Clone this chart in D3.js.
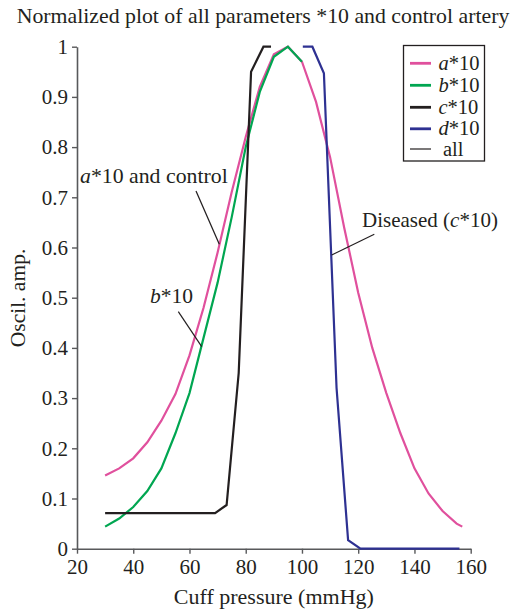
<!DOCTYPE html>
<html><head><meta charset="utf-8">
<script src="https://cdn.jsdelivr.net/npm/d3@7"></script>
<style>
body{margin:0;background:#fff}
svg{display:block}
text,tspan{font-family:"Liberation Serif","Times New Roman",serif;fill:#231f20}
</style>
</head><body>
<svg id="c" width="516" height="612"></svg>
<script>
// ---- data ----
const pressureA = [30,35,40,45,50,55,60,65,70,75,80,85,90,95,100,105,110,115,120,125,130,135,140,145,150,155,157];
const valuesA   = [0.146,0.160,0.180,0.212,0.255,0.308,0.385,0.48,0.59,0.71,0.82,0.92,0.985,1.0,0.97,0.89,0.78,0.64,0.51,0.40,0.31,0.23,0.16,0.11,0.075,0.05,0.044];
const pressureB = [30,35,40,45,50,55,60,65,70,75,80,85,90,95,100];
const valuesB   = [0.044,0.06,0.083,0.115,0.16,0.23,0.31,0.42,0.53,0.66,0.80,0.91,0.98,1.0,0.97];
const pressureC = [30,69.1,73.2,77.5,81.9,86.3,89];
const valuesC   = [0.071,0.071,0.087,0.35,0.95,1.0,1.0];
const pressureD = [100.3,103.7,107.8,112.3,116.4,120.8,156];
const valuesD   = [1.0,1.0,0.947,0.32,0.017,0.0,0.0];

const seriesNames  = ["a","b","c","d"];
const seriesColors = ["#e0509d","#00a651","#231f20","#2e3192"];
const xTicks = [20,40,60,80,100,120,140,160];
const yTicks = [0,0.1,0.2,0.3,0.4,0.5,0.6,0.7,0.8,0.9,1];
const yTickLabels = ["0","0.1","0.2","0.3","0.4","0.5","0.6","0.7","0.8","0.9","1"];

const titleText = "Normalized plot of all parameters *10 and control artery";
const xLabel = "Cuff pressure (mmHg)";
const yLabel = "Oscil. amp.";

// ---- drawing ----
const FF = '"Liberation Serif","Times New Roman",serif';
const svg = d3.select("#c").attr("font-family",FF);
const x = d3.scaleLinear().domain([20,160]).range([77,470.7]);
const y = d3.scaleLinear().domain([0,1]).range([548.7,46.7]);
const axisColor = "#58595b";

svg.append("text").attr("x",263).attr("y",23).attr("text-anchor","middle")
  .attr("font-family",FF).style("font-size","21.8px").text(titleText);

const gx = svg.append("g").attr("transform",`translate(0,${y(0)})`)
  .call(d3.axisBottom(x).tickValues(xTicks).tickSize(5).tickSizeOuter(0).tickPadding(5));
const gy = svg.append("g").attr("transform",`translate(${x(20)},0)`)
  .call(d3.axisLeft(y).tickValues(yTicks).tickFormat((d,i)=>yTickLabels[i]).tickSize(5).tickSizeOuter(0).tickPadding(4));
[gx,gy].forEach(g=>{
  g.attr("font-family",FF).attr("font-size",21);
  g.select(".domain").attr("stroke",axisColor).attr("stroke-width",1.6);
  g.selectAll(".tick line").attr("stroke",axisColor).attr("stroke-width",1.4);
  g.selectAll(".tick text").attr("fill","#231f20").attr("font-family",FF).style("font-size","21px");
});

svg.append("text").attr("x",x(90)).attr("y",604).attr("text-anchor","middle")
  .attr("font-family",FF).style("font-size","22px").text(xLabel);
svg.append("text").attr("transform","translate(25,298) rotate(-90)").attr("text-anchor","middle")
  .attr("font-family",FF).style("font-size","21.5px").text(yLabel);

const line = d3.line().x(d=>x(d[0])).y(d=>y(d[1]));
const data = [
  d3.zip(pressureA,valuesA),
  d3.zip(pressureB,valuesB),
  d3.zip(pressureC,valuesC),
  d3.zip(pressureD,valuesD)
];
data.forEach((d,i)=>{
  svg.append("path").datum(d).attr("d",line).attr("fill","none")
    .attr("stroke",seriesColors[i]).attr("stroke-width",2.2).attr("stroke-linejoin","miter");
});

// annotations
function label(g, xp, yp, parts, size){
  const t = g.append("text").attr("x",xp).attr("y",yp).attr("font-family",FF).style("font-size",size+"px");
  parts.forEach(p=>t.append("tspan").attr("font-family",FF).style("font-style",p[1]?"italic":"normal").text(p[0]));
  return t;
}
const ann = svg.append("g");
label(ann,80,183,[["a",true],["*10 and control",false]],21.8);
ann.append("line").attr("x1",196).attr("y1",191).attr("x2",219.3).attr("y2",244.3).attr("stroke","#231f20").attr("stroke-width",1.2);
label(ann,150,303,[["b",true],["*10",false]],21.5);
ann.append("line").attr("x1",178.3).attr("y1",311.7).attr("x2",201.7).attr("y2",346.7).attr("stroke","#231f20").attr("stroke-width",1.2);
label(ann,362,227,[["Diseased (",false],["c",true],["*10)",false]],21);
ann.append("line").attr("x1",374.3).attr("y1",234.3).attr("x2",331.7).attr("y2",255).attr("stroke","#231f20").attr("stroke-width",1.2);

// legend
const lg = svg.append("g");
lg.append("rect").attr("x",403.5).attr("y",45.5).attr("width",81).attr("height",115.5)
  .attr("fill","#fff").attr("stroke","#231f20").attr("stroke-width",1.3);
const rows = [63.3,85.3,107.3,128.8,149];
seriesNames.forEach((n,i)=>{
  lg.append("line").attr("x1",410).attr("x2",431).attr("y1",rows[i]).attr("y2",rows[i])
    .attr("stroke",seriesColors[i]).attr("stroke-width",2.8);
  label(lg,438.5,rows[i]+6.5,[[n,true],["*10",false]],20.5);
});
lg.append("line").attr("x1",410).attr("x2",431).attr("y1",rows[4]).attr("y2",rows[4])
  .attr("stroke","#231f20").attr("stroke-width",1.2);
label(lg,443,rows[4]+6.5,[["all",false]],20.5);
</script>
</body></html>
